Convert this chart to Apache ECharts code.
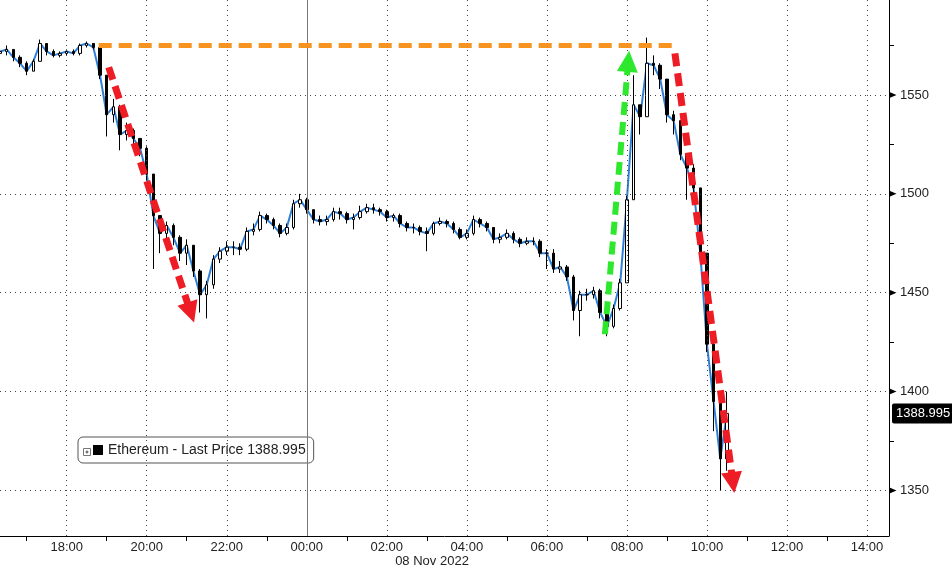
<!DOCTYPE html>
<html><head><meta charset="utf-8">
<script src="https://cdn.jsdelivr.net/npm/echarts@6/dist/echarts.min.js"></script>
<style>html,body{margin:0;padding:0;background:#fff}#c{width:952px;height:568px}</style>
</head><body><div id="c"></div>
<script>
// ---- data (10-minute bars, 07 Nov 16:20 -> 08 Nov 10:30) ----
const times = [
'16:20','16:30','16:40','16:50','17:00','17:10','17:20','17:30','17:40','17:50',
'18:00','18:10','18:20','18:30','18:40','18:50','19:00','19:10','19:20','19:30',
'19:40','19:50','20:00','20:10','20:20','20:30','20:40','20:50','21:00','21:10',
'21:20','21:30','21:40','21:50','22:00','22:10','22:20','22:30','22:40','22:50',
'23:00','23:10','23:20','23:30','23:40','23:50','00:00','00:10','00:20','00:30',
'00:40','00:50','01:00','01:10','01:20','01:30','01:40','01:50','02:00','02:10',
'02:20','02:30','02:40','02:50','03:00','03:10','03:20','03:30','03:40','03:50',
'04:00','04:10','04:20','04:30','04:40','04:50','05:00','05:10','05:20','05:30',
'05:40','05:50','06:00','06:10','06:20','06:30','06:40','06:50','07:00','07:10',
'07:20','07:30','07:40','07:50','08:00','08:10','08:20','08:30','08:40','08:50',
'09:00','09:10','09:20','09:30','09:40','09:50','10:00','10:10','10:20','10:30'];
const opens = [
1571,1572,1573,1569,1566,1562,1567,1576,1572,1570,
1571,1572,1571,1575,1576,1574,1560,1540,1544,1530,
1532,1528,1523,1510,1489,1480,1484,1478,1470,1474,
1461,1449,1454,1467,1471,1473,1473,1472,1481,1482,
1489,1487,1484,1480,1483,1495,1497,1492,1487,1486,
1487,1491,1490,1487,1488,1491,1493,1492,1491,1488,
1489,1485,1483,1483,1481,1480,1485,1486,1485,1482,
1478,1480,1487,1485,1483,1477,1478,1480,1477,1475,
1476,1476,1470,1470,1462,1463,1458,1441,1449,1449,
1451,1440,1433,1442,1455,1497,1545,1539,1566,1565,
1558,1540,1537,1520,1513,1503,1470,1424,1395,1366];
const closes = [
1572,1573,1569,1566,1562,1567,1576,1572,1570,1571,
1572,1571,1575,1576,1574,1560,1540,1544,1530,1532,
1528,1523,1510,1489,1480,1484,1478,1470,1474,1461,
1449,1454,1467,1471,1473,1473,1472,1481,1482,1489,
1487,1484,1480,1483,1495,1497,1492,1487,1486,1487,
1491,1490,1487,1488,1491,1493,1492,1491,1488,1489,
1485,1483,1483,1481,1480,1485,1486,1485,1482,1478,
1480,1487,1485,1483,1477,1478,1480,1477,1475,1476,
1476,1470,1470,1462,1463,1458,1441,1449,1449,1451,
1440,1433,1442,1455,1497,1545,1539,1566,1565,1558,
1540,1537,1520,1513,1503,1470,1424,1395,1366,1388.995];
const highs = [
1574,1575,1573,1570,1567,1568,1578,1576,1573,1572,
1573,1573,1576,1577,1576,1575,1560,1548,1545,1536,
1533,1528,1524,1510,1489,1486,1485,1479,1477,1474,
1462,1456,1469,1473,1476,1476,1475,1483,1485,1491,
1490,1488,1485,1485,1497,1500,1498,1492,1489,1489,
1493,1493,1491,1490,1494,1495,1495,1493,1492,1490,
1490,1486,1485,1484,1483,1486,1488,1487,1486,1483,
1482,1489,1488,1486,1483,1480,1482,1481,1478,1478,
1478,1477,1472,1472,1466,1464,1459,1451,1452,1453,
1452,1441,1444,1457,1499,1560,1545,1579,1570,1566,
1558,1542,1537,1520,1515,1503,1470,1426,1400,1400];
const lows = [
1570,1570,1567,1564,1560,1562,1567,1570,1569,1569,
1570,1570,1570,1574,1573,1558,1529,1536,1522,1527,
1525,1519,1507,1462,1470,1476,1474,1466,1464,1458,
1440,1437,1452,1465,1469,1469,1469,1471,1479,1481,
1485,1482,1478,1479,1482,1493,1490,1485,1484,1484,
1486,1487,1485,1482,1487,1490,1490,1489,1486,1486,
1483,1481,1480,1479,1471,1479,1484,1483,1480,1477,
1477,1479,1483,1481,1475,1475,1477,1475,1473,1474,
1474,1468,1462,1460,1460,1456,1436,1428,1446,1447,
1437,1428,1432,1441,1455,1497,1530,1539,1560,1553,
1536,1530,1517,1497,1498,1465,1420,1380,1350,1360];

const xTickLabels = ['18:00','20:00','22:00','00:00','02:00','04:00','06:00','08:00','10:00','12:00','14:00'];
const xMinorTicks = ['17:00','19:00','21:00','23:00','01:00','03:00','05:00','07:00','09:00','11:00','13:00'];
const yTickLabels = [1350,1400,1450,1500,1550];
const yMinorTicks = [1375,1425,1475,1525,1575];
const xRange = ['16:20','14:33'];
const yRange = [1327,1598];
const dayBreak = '00:00';
const dateLabel = '08 Nov 2022';
const lastPrice = 1388.995;
const seriesName = 'Ethereum - Last Price 1388.995';

// annotation arrows (time, price)
const orangeLevel = [['18:48',1575],['09:10',1575]];
const redArrow1 = [['19:03',1564],['21:06',1440]];
const greenArrow = [['07:27',1429],['08:02',1567]];
const redArrow2 = [['09:12',1571],['10:39',1354]];

// ---- helpers ----
function toTs(s){const p=s.split(':').map(Number);const day=p[0]>=16?7:8;return Date.UTC(2022,10,day,p[0],p[1]);}
function pad(n){return (n<10?'0':'')+n;}
const FONT = "'Liberation Sans', Arial, sans-serif";

const candleData = times.map((t,i)=>[toTs(t), opens[i], closes[i], lows[i], highs[i]]);
const lineData = times.map((t,i)=>[toTs(t), closes[i]]);
const xMaxTs = toTs(xRange[1]);

function arrow(seg, color, width, curve){
  return [
    {coord:[toTs(seg[0][0]), seg[0][1]], symbol:'none'},
    {coord:[toTs(seg[1][0]), seg[1][1]], symbol:'triangle', symbolSize:21,
     lineStyle:{color:color, width:width, type:[13,7], curveness:curve||0, cap:'butt'}, itemStyle:{color:color}}
  ];
}

const chart = echarts.init(document.getElementById('c'), null, {renderer:'canvas'});
chart.setOption({
  animation: false,
  backgroundColor: '#fff',
  grid: {left:0, right:63, top:0, bottom:32, containLabel:false},
  legend: {
    data: [{name: seriesName, itemStyle:{color:'#000', borderWidth:0}}],
    left: 78, top: 437,
    icon: 'rect', itemWidth: 10, itemHeight: 10, itemGap: 5,
    padding: [6, 8, 6, 15],
    backgroundColor: '#fff', borderColor: '#555', borderWidth: 1, borderRadius: 5,
    textStyle: {fontFamily: FONT, fontSize: 14, color: '#222'},
    selectedMode: false
  },
  graphic: [
    {type:'text', x:432, y:561, style:{text:dateLabel, font:'13px '+FONT, fill:'#222', textAlign:'center', textVerticalAlign:'middle'}},
    {type:'group', x:83.5, y:448.5, z:200, children:[
      {type:'rect', z:200, shape:{x:0,y:0,width:7,height:7}, style:{fill:'#fff', stroke:'#777', lineWidth:1}},
      {type:'line', z:201, shape:{x1:2,y1:3.5,x2:5,y2:3.5}, style:{stroke:'#444', lineWidth:1}},
      {type:'line', z:201, shape:{x1:3.5,y1:2,x2:3.5,y2:5}, style:{stroke:'#444', lineWidth:1}}
    ]}
  ],
  xAxis: {
    type: 'value',
    min: toTs(xRange[0]), max: xMaxTs,
    axisLine: {show:true, onZero:false, lineStyle:{color:'#000', width:1}},
    axisTick: {show:true, customValues: xMinorTicks.map(toTs), length:5, lineStyle:{color:'#000'}},
    axisLabel: {
      customValues: xTickLabels.map(toTs),
      formatter: function(v){const d=new Date(v);return pad(d.getUTCHours())+':'+pad(d.getUTCMinutes());},
      fontFamily: FONT, fontSize: 13, color: '#222', margin: 5
    },
    splitLine: {show:false}
  },
  yAxis: {
    type: 'value', position: 'right',
    min: yRange[0], max: yRange[1],
    axisLine: {show:true, lineStyle:{color:'#000', width:1}},
    axisTick: {show:true, customValues: yMinorTicks, length:5, lineStyle:{color:'#000'}},
    axisLabel: {customValues: yTickLabels, formatter: function(v){return String(v);},
      fontFamily: FONT, fontSize: 13, color: '#222', margin: 11},
    splitLine: {show:false}
  },
  series: [
    { // gridlines
      type:'line', data:[], silent:true, z:0,
      markLine: {
        silent:true, symbol:'none', label:{show:false}, animation:false,
        lineStyle:{type:[1,4], color:'#444', width:1},
        data: [].concat(
          yTickLabels.map(v=>({yAxis:v})),
          xTickLabels.filter(t=>t!==dayBreak).map(t=>({xAxis:toTs(t)})),
          [{xAxis:toTs(dayBreak), lineStyle:{type:'solid', color:'#777', width:1}}]
        )
      }
    },
    {
      type:'line', data: lineData, showSymbol:false, z:1, silent:true,
      lineStyle:{color:'#2f7fd6', width:2},
      markPoint: {
        silent:true, animation:false,
        symbol:'triangle', symbolSize:[6,7], symbolRotate:-90, symbolOffset:[4,0],
        itemStyle:{color:'#000'}, label:{show:false},
        data: yTickLabels.map(v=>({coord:[xMaxTs, v]}))
      },
      markLine: {
        silent:true, animation:false, symbol:'none',
        lineStyle:{color:'rgba(0,0,0,0)', width:0},
        label:{show:true, position:'end', distance:3, formatter: String(lastPrice),
          backgroundColor:'#000', color:'#fff', fontFamily:FONT, fontSize:13, padding:[4,3,3,4], borderRadius:2},
        data:[{yAxis:lastPrice}]
      }
    },
    {
      name: seriesName, type:'candlestick', data: candleData, z:2,
      encode:{x:0, y:[1,2,3,4]},
      barWidth: 3,
      itemStyle:{color:'#fff', color0:'#000', borderColor:'#000', borderColor0:'#000', borderColorDoji:'#000', borderWidth:1}
    },
    { // annotations
      type:'line', data:[], z:10, silent:true,
      markLine: {
        silent:true, animation:false, label:{show:false},
        data: [
          [{coord:[toTs(orangeLevel[0][0]), orangeLevel[0][1]], symbol:'none'},
           {coord:[toTs(orangeLevel[1][0]), orangeLevel[1][1]], symbol:'none',
            lineStyle:{color:'#f7931e', width:5, type:[13,7], cap:'butt'}}],
          arrow(redArrow1, '#ee1c24', 7, 0),
          arrow(greenArrow, '#2ee82e', 6, 0),
          arrow(redArrow2, '#ee1c24', 7, 0.06)
        ]
      }
    }
  ]
});
</script></body></html>
